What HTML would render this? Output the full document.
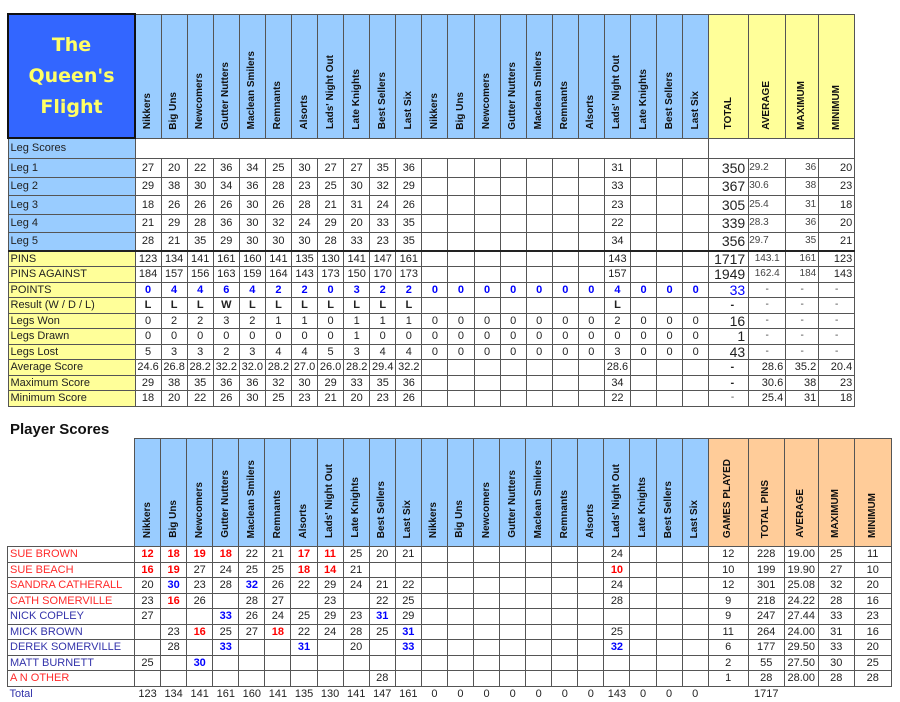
<!DOCTYPE html>
<html><head><meta charset="utf-8"><style>
body{margin:0;width:900px;height:702px;background:#fff;position:relative;overflow:hidden;font-family:"Liberation Sans",Arial,sans-serif;color:#222}
table{border-collapse:collapse;table-layout:fixed;position:absolute;left:7px}
td{border:1px solid #555;padding:0;text-align:center;font-size:11px;white-space:nowrap;overflow:hidden;line-height:12px}
td.h{vertical-align:bottom;background:#99ccff;padding-bottom:5px}
td.y{background:#ffff99}
td.o{background:#ffcc99;vertical-align:bottom;padding-bottom:5px}
td.h div,td.y div,td.o div{writing-mode:vertical-rl;transform:rotate(180deg);display:inline-block;font-weight:bold;font-size:10px;color:#111}
td.lb{text-align:left;padding-left:2px;background:#99ccff}
td.ly{text-align:left;padding-left:2px;background:#ffff99}
td.title{background:#3366ff;border:2px solid #111;color:#ffff66;font-family:"DejaVu Sans",sans-serif;font-weight:bold;font-size:19px;line-height:31px}
.b{color:#0000ff;font-weight:bold}
.r{color:#ff0000;font-weight:bold}
.k{font-weight:bold}
.big{font-size:14px;text-align:right;padding-right:3px}
.sm{font-size:10px;color:#444}
.rt{text-align:right;padding-right:2px}
.nr{text-align:left;padding-left:2px;color:#ff2a2a}
.nb{text-align:left;padding-left:2px;color:#3333aa}
.nob td{border:none}
</style></head><body>
<table style="top:13px;width:847px">
<colgroup><col style="width:127px"><col span="22" style="width:26.09px"><col style="width:40px"><col style="width:37px"><col style="width:33px"><col style="width:36px"></colgroup>
<tr style="height:124px"><td class="title">The<br>Queen's<br>Flight</td>
<td class="h"><div>Nikkers</div></td><td class="h"><div>Big Uns</div></td><td class="h"><div>Newcomers</div></td><td class="h"><div>Gutter Nutters</div></td><td class="h"><div>Maclean Smilers</div></td><td class="h"><div>Remnants</div></td><td class="h"><div>Alsorts</div></td><td class="h"><div>Lads' Night Out</div></td><td class="h"><div>Late Knights</div></td><td class="h"><div>Best Sellers</div></td><td class="h"><div>Last Six</div></td>
<td class="h"><div>Nikkers</div></td><td class="h"><div>Big Uns</div></td><td class="h"><div>Newcomers</div></td><td class="h"><div>Gutter Nutters</div></td><td class="h"><div>Maclean Smilers</div></td><td class="h"><div>Remnants</div></td><td class="h"><div>Alsorts</div></td><td class="h"><div>Lads' Night Out</div></td><td class="h"><div>Late Knights</div></td><td class="h"><div>Best Sellers</div></td><td class="h"><div>Last Six</div></td>
<td class="y" style="vertical-align:bottom;padding-bottom:5px"><div>TOTAL</div></td><td class="y" style="vertical-align:bottom;padding-bottom:5px"><div>AVERAGE</div></td><td class="y" style="vertical-align:bottom;padding-bottom:5px"><div>MAXIMUM</div></td><td class="y" style="vertical-align:bottom;padding-bottom:5px"><div>MINIMUM</div></td></tr>
<tr style="height:20px"><td class="lb">Leg Scores</td><td colspan="22" style="border-left:1px solid #555"></td><td colspan="4"></td></tr>
<tr style="height:19px"><td class="lb">Leg 1</td><td>27</td><td>20</td><td>22</td><td>36</td><td>34</td><td>25</td><td>30</td><td>27</td><td>27</td><td>35</td><td>36</td><td></td><td></td><td></td><td></td><td></td><td></td><td></td><td>31</td><td></td><td></td><td></td><td class="big">350</td><td class="sm" style="text-align:left">29.2</td><td class="rt sm">36</td><td class="rt">20</td></tr>
<tr style="height:18px"><td class="lb">Leg 2</td><td>29</td><td>38</td><td>30</td><td>34</td><td>36</td><td>28</td><td>23</td><td>25</td><td>30</td><td>32</td><td>29</td><td></td><td></td><td></td><td></td><td></td><td></td><td></td><td>33</td><td></td><td></td><td></td><td class="big">367</td><td class="sm" style="text-align:left">30.6</td><td class="rt sm">38</td><td class="rt">23</td></tr>
<tr style="height:19px"><td class="lb">Leg 3</td><td>18</td><td>26</td><td>26</td><td>26</td><td>30</td><td>26</td><td>28</td><td>21</td><td>31</td><td>24</td><td>26</td><td></td><td></td><td></td><td></td><td></td><td></td><td></td><td>23</td><td></td><td></td><td></td><td class="big">305</td><td class="sm" style="text-align:left">25.4</td><td class="rt sm">31</td><td class="rt">18</td></tr>
<tr style="height:18px"><td class="lb">Leg 4</td><td>21</td><td>29</td><td>28</td><td>36</td><td>30</td><td>32</td><td>24</td><td>29</td><td>20</td><td>33</td><td>35</td><td></td><td></td><td></td><td></td><td></td><td></td><td></td><td>22</td><td></td><td></td><td></td><td class="big">339</td><td class="sm" style="text-align:left">28.3</td><td class="rt sm">36</td><td class="rt">20</td></tr>
<tr style="height:19px"><td class="lb">Leg 5</td><td>28</td><td>21</td><td>35</td><td>29</td><td>30</td><td>30</td><td>30</td><td>28</td><td>33</td><td>23</td><td>35</td><td></td><td></td><td></td><td></td><td></td><td></td><td></td><td>34</td><td></td><td></td><td></td><td class="big">356</td><td class="sm" style="text-align:left">29.7</td><td class="rt sm">35</td><td class="rt">21</td></tr>
<tr style="height:15.5px;border-top:2px solid #222"><td class="ly">PINS</td><td>123</td><td>134</td><td>141</td><td>161</td><td>160</td><td>141</td><td>135</td><td>130</td><td>141</td><td>147</td><td>161</td><td></td><td></td><td></td><td></td><td></td><td></td><td></td><td>143</td><td></td><td></td><td></td><td class="big">1717</td><td class="sm">143.1</td><td class="rt sm">161</td><td class="rt">123</td></tr>
<tr style="height:15.5px"><td class="ly">PINS AGAINST</td><td>184</td><td>157</td><td>156</td><td>163</td><td>159</td><td>164</td><td>143</td><td>173</td><td>150</td><td>170</td><td>173</td><td></td><td></td><td></td><td></td><td></td><td></td><td></td><td>157</td><td></td><td></td><td></td><td class="big">1949</td><td class="sm">162.4</td><td class="rt sm">184</td><td class="rt">143</td></tr>
<tr style="height:15.5px" class="bb"><td class="ly">POINTS</td><td class="b">0</td><td class="b">4</td><td class="b">4</td><td class="b">6</td><td class="b">4</td><td class="b">2</td><td class="b">2</td><td class="b">0</td><td class="b">3</td><td class="b">2</td><td class="b">2</td><td class="b">0</td><td class="b">0</td><td class="b">0</td><td class="b">0</td><td class="b">0</td><td class="b">0</td><td class="b">0</td><td class="b">4</td><td class="b">0</td><td class="b">0</td><td class="b">0</td><td class="big" style="color:#0000ff">33</td><td class="sm">-</td><td class="sm">-</td><td class="sm">-</td></tr>
<tr style="height:15.5px"><td class="ly">Result (W / D / L)</td><td class="k">L</td><td class="k">L</td><td class="k">L</td><td class="k">W</td><td class="k">L</td><td class="k">L</td><td class="k">L</td><td class="k">L</td><td class="k">L</td><td class="k">L</td><td class="k">L</td><td></td><td></td><td></td><td></td><td></td><td></td><td></td><td class="k">L</td><td></td><td></td><td></td><td class="k" style="text-align:right;padding-right:14px">-</td><td class="sm">-</td><td class="sm">-</td><td class="sm">-</td></tr>
<tr style="height:15.5px"><td class="ly">Legs Won</td><td>0</td><td>2</td><td>2</td><td>3</td><td>2</td><td>1</td><td>1</td><td>0</td><td>1</td><td>1</td><td>1</td><td>0</td><td>0</td><td>0</td><td>0</td><td>0</td><td>0</td><td>0</td><td>2</td><td>0</td><td>0</td><td>0</td><td class="big">16</td><td class="sm">-</td><td class="sm">-</td><td class="sm">-</td></tr>
<tr style="height:15.5px"><td class="ly">Legs Drawn</td><td>0</td><td>0</td><td>0</td><td>0</td><td>0</td><td>0</td><td>0</td><td>0</td><td>1</td><td>0</td><td>0</td><td>0</td><td>0</td><td>0</td><td>0</td><td>0</td><td>0</td><td>0</td><td>0</td><td>0</td><td>0</td><td>0</td><td class="big">1</td><td class="sm">-</td><td class="sm">-</td><td class="sm">-</td></tr>
<tr style="height:15.5px"><td class="ly">Legs Lost</td><td>5</td><td>3</td><td>3</td><td>2</td><td>3</td><td>4</td><td>4</td><td>5</td><td>3</td><td>4</td><td>4</td><td>0</td><td>0</td><td>0</td><td>0</td><td>0</td><td>0</td><td>0</td><td>3</td><td>0</td><td>0</td><td>0</td><td class="big">43</td><td class="sm">-</td><td class="sm">-</td><td class="sm">-</td></tr>
<tr style="height:15.5px"><td class="ly">Average Score</td><td>24.6</td><td>26.8</td><td>28.2</td><td>32.2</td><td>32.0</td><td>28.2</td><td>27.0</td><td>26.0</td><td>28.2</td><td>29.4</td><td>32.2</td><td></td><td></td><td></td><td></td><td></td><td></td><td></td><td>28.6</td><td></td><td></td><td></td><td class="k" style="text-align:right;padding-right:14px">-</td><td class="rt">28.6</td><td class="rt">35.2</td><td class="rt">20.4</td></tr>
<tr style="height:15.5px"><td class="ly">Maximum Score</td><td>29</td><td>38</td><td>35</td><td>36</td><td>36</td><td>32</td><td>30</td><td>29</td><td>33</td><td>35</td><td>36</td><td></td><td></td><td></td><td></td><td></td><td></td><td></td><td>34</td><td></td><td></td><td></td><td class="k" style="text-align:right;padding-right:14px">-</td><td class="rt">30.6</td><td class="rt">38</td><td class="rt">23</td></tr>
<tr style="height:15.5px"><td class="ly">Minimum Score</td><td>18</td><td>20</td><td>22</td><td>26</td><td>30</td><td>25</td><td>23</td><td>21</td><td>20</td><td>23</td><td>26</td><td></td><td></td><td></td><td></td><td></td><td></td><td></td><td>22</td><td></td><td></td><td></td><td class="sm" style="text-align:right;padding-right:14px">-</td><td class="rt">25.4</td><td class="rt">31</td><td class="rt">18</td></tr>
</table>

<div style="position:absolute;left:10px;top:421px;font-weight:bold;font-size:15px;color:#111">Player Scores</div>

<table style="top:438px;width:884px">
<colgroup><col style="width:127px"><col span="22" style="width:26.09px"><col style="width:40px"><col style="width:36px"><col style="width:34px"><col style="width:36px"><col style="width:37px"></colgroup>
<tr style="height:108px"><td style="border:none;border-bottom:1px solid #555"></td>
<td class="h"><div>Nikkers</div></td><td class="h"><div>Big Uns</div></td><td class="h"><div>Newcomers</div></td><td class="h"><div>Gutter Nutters</div></td><td class="h"><div>Maclean Smilers</div></td><td class="h"><div>Remnants</div></td><td class="h"><div>Alsorts</div></td><td class="h"><div>Lads' Night Out</div></td><td class="h"><div>Late Knights</div></td><td class="h"><div>Best Sellers</div></td><td class="h"><div>Last Six</div></td>
<td class="h"><div>Nikkers</div></td><td class="h"><div>Big Uns</div></td><td class="h"><div>Newcomers</div></td><td class="h"><div>Gutter Nutters</div></td><td class="h"><div>Maclean Smilers</div></td><td class="h"><div>Remnants</div></td><td class="h"><div>Alsorts</div></td><td class="h"><div>Lads' Night Out</div></td><td class="h"><div>Late Knights</div></td><td class="h"><div>Best Sellers</div></td><td class="h"><div>Last Six</div></td>
<td class="o"><div>GAMES PLAYED</div></td><td class="o"><div>TOTAL PINS</div></td><td class="o"><div>AVERAGE</div></td><td class="o"><div>MAXIMUM</div></td><td class="o"><div>MINIMUM</div></td></tr>
<tr style="height:15.5px"><td class="nr">SUE BROWN</td><td class="r">12</td><td class="r">18</td><td class="r">19</td><td class="r">18</td><td>22</td><td>21</td><td class="r">17</td><td class="r">11</td><td>25</td><td>20</td><td>21</td><td></td><td></td><td></td><td></td><td></td><td></td><td></td><td>24</td><td></td><td></td><td></td><td>12</td><td>228</td><td>19.00</td><td>25</td><td>11</td></tr>
<tr style="height:15.5px"><td class="nr">SUE BEACH</td><td class="r">16</td><td class="r">19</td><td>27</td><td>24</td><td>25</td><td>25</td><td class="r">18</td><td class="r">14</td><td>21</td><td></td><td></td><td></td><td></td><td></td><td></td><td></td><td></td><td></td><td class="r">10</td><td></td><td></td><td></td><td>10</td><td>199</td><td>19.90</td><td>27</td><td>10</td></tr>
<tr style="height:15.5px"><td class="nr">SANDRA CATHERALL</td><td>20</td><td class="b">30</td><td>23</td><td>28</td><td class="b">32</td><td>26</td><td>22</td><td>29</td><td>24</td><td>21</td><td>22</td><td></td><td></td><td></td><td></td><td></td><td></td><td></td><td>24</td><td></td><td></td><td></td><td>12</td><td>301</td><td>25.08</td><td>32</td><td>20</td></tr>
<tr style="height:15.5px"><td class="nr">CATH SOMERVILLE</td><td>23</td><td class="r">16</td><td>26</td><td></td><td>28</td><td>27</td><td></td><td>23</td><td></td><td>22</td><td>25</td><td></td><td></td><td></td><td></td><td></td><td></td><td></td><td>28</td><td></td><td></td><td></td><td>9</td><td>218</td><td>24.22</td><td>28</td><td>16</td></tr>
<tr style="height:15.5px"><td class="nb">NICK COPLEY</td><td>27</td><td></td><td></td><td class="b">33</td><td>26</td><td>24</td><td>25</td><td>29</td><td>23</td><td class="b">31</td><td>29</td><td></td><td></td><td></td><td></td><td></td><td></td><td></td><td></td><td></td><td></td><td></td><td>9</td><td>247</td><td>27.44</td><td>33</td><td>23</td></tr>
<tr style="height:15.5px"><td class="nb">MICK BROWN</td><td></td><td>23</td><td class="r">16</td><td>25</td><td>27</td><td class="r">18</td><td>22</td><td>24</td><td>28</td><td>25</td><td class="b">31</td><td></td><td></td><td></td><td></td><td></td><td></td><td></td><td>25</td><td></td><td></td><td></td><td>11</td><td>264</td><td>24.00</td><td>31</td><td>16</td></tr>
<tr style="height:15.5px"><td class="nb">DEREK SOMERVILLE</td><td></td><td>28</td><td></td><td class="b">33</td><td></td><td></td><td class="b">31</td><td></td><td>20</td><td></td><td class="b">33</td><td></td><td></td><td></td><td></td><td></td><td></td><td></td><td class="b">32</td><td></td><td></td><td></td><td>6</td><td>177</td><td>29.50</td><td>33</td><td>20</td></tr>
<tr style="height:15.5px"><td class="nb">MATT BURNETT</td><td>25</td><td></td><td class="b">30</td><td></td><td></td><td></td><td></td><td></td><td></td><td></td><td></td><td></td><td></td><td></td><td></td><td></td><td></td><td></td><td></td><td></td><td></td><td></td><td>2</td><td>55</td><td>27.50</td><td>30</td><td>25</td></tr>
<tr style="height:15.5px"><td class="nr">A N OTHER</td><td></td><td></td><td></td><td></td><td></td><td></td><td></td><td></td><td></td><td>28</td><td></td><td></td><td></td><td></td><td></td><td></td><td></td><td></td><td></td><td></td><td></td><td></td><td>1</td><td>28</td><td>28.00</td><td>28</td><td>28</td></tr>
<tr style="height:16px" class="nob"><td class="nb" style="border:none">Total</td><td>123</td><td>134</td><td>141</td><td>161</td><td>160</td><td>141</td><td>135</td><td>130</td><td>141</td><td>147</td><td>161</td><td>0</td><td>0</td><td>0</td><td>0</td><td>0</td><td>0</td><td>0</td><td>143</td><td>0</td><td>0</td><td>0</td><td></td><td>1717</td><td></td><td></td><td></td></tr>
</table>
</body></html>
